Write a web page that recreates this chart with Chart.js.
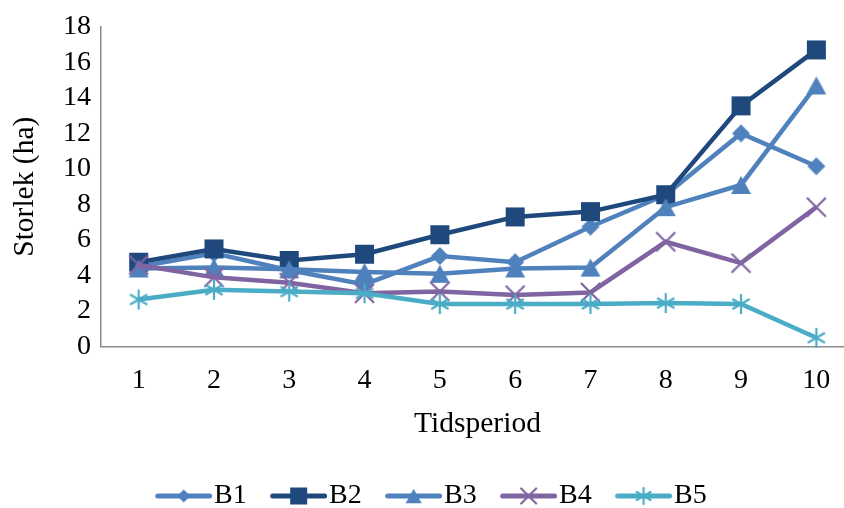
<!DOCTYPE html>
<html><head><meta charset="utf-8">
<script src="https://cdn.jsdelivr.net/npm/chart.js@4.4.1/dist/chart.umd.min.js"></script>
<style>html,body{margin:0;padding:0;overflow:hidden;background:#fff;width:844px;height:508px}
#c{position:absolute;left:0;top:0}</style></head>
<body><canvas id="c" width="856" height="520"></canvas>
<script>
// ---- data ----
const categories = ['1','2','3','4','5','6','7','8','9','10'];
const seriesNames = ['B1','B2','B3','B4','B5'];
const B1 = [4.5, 5.25, 4.3, 3.5, 5.1, 4.75, 6.75, 8.55, 12.0, 10.15];
const B2 = [4.75, 5.5, 4.85, 5.2, 6.3, 7.3, 7.6, 8.55, 13.55, 16.7];
const B3 = [4.4, 4.45, 4.35, 4.2, 4.1, 4.4, 4.45, 7.85, 9.1, 14.7];
const B4 = [4.6, 3.9, 3.6, 3.0, 3.1, 2.9, 3.05, 5.9, 4.7, 7.85];
const B5 = [2.65, 3.2, 3.1, 3.0, 2.4, 2.4, 2.4, 2.45, 2.4, 0.5];
const yMin = 0, yMax = 18, yStep = 2;
const xTitle = 'Tidsperiod';
const yTitle = 'Storlek (ha)';

const seriesData = [B1, B2, B3, B4, B5];
const colors = ['#4F81BD', '#1F497D', '#4F81BD', '#8064A2', '#4BACC6'];
const markers = ['diamond', 'square', 'triangle', 'x', 'star'];
const markerSizes = [18, 19, 20, 19, 20];
const legendMarkerSizes = [13, 17, 16, 15, 16];

function drawMarker(ctx, type, cx, cy, s, color) {
  ctx.fillStyle = color; ctx.strokeStyle = color;
  const h = s / 2;
  ctx.beginPath();
  if (type === 'diamond') {
    ctx.moveTo(cx, cy - h); ctx.lineTo(cx + h, cy); ctx.lineTo(cx, cy + h); ctx.lineTo(cx - h, cy); ctx.closePath(); ctx.fill();
  } else if (type === 'square') {
    ctx.rect(cx - h, cy - h, s, s); ctx.fill();
  } else if (type === 'triangle') {
    const th = s * 0.9;
    ctx.moveTo(cx, cy - th / 2); ctx.lineTo(cx + h, cy + th / 2); ctx.lineTo(cx - h, cy + th / 2); ctx.closePath(); ctx.fill();
  } else if (type === 'x') {
    ctx.lineWidth = 2.2;
    ctx.moveTo(cx - h, cy - h); ctx.lineTo(cx + h, cy + h);
    ctx.moveTo(cx + h, cy - h); ctx.lineTo(cx - h, cy + h); ctx.stroke();
  } else if (type === 'star') {
    ctx.lineWidth = 2.2;
    [90, 30, 150].forEach(a => {
      const r = a * Math.PI / 180, dx = Math.cos(r) * h, dy = Math.sin(r) * h;
      ctx.moveTo(cx - dx, cy - dy); ctx.lineTo(cx + dx, cy + dy);
    });
    ctx.stroke();
  }
}
function markerImage(type, color, s) {
  const c = document.createElement('canvas');
  const size = Math.ceil(s + 4);
  c.width = size; c.height = size;
  drawMarker(c.getContext('2d'), type, size / 2, size / 2, s, color);
  return c;
}
function legendImage(type, color, s) {
  const W = 69, H = 24, off = 12;
  const c = document.createElement('canvas');
  c.width = W; c.height = H;
  const ctx = c.getContext('2d');
  ctx.strokeStyle = color; ctx.lineWidth = 5; ctx.lineCap = 'round';
  ctx.beginPath(); ctx.moveTo(off + 2.5, H / 2); ctx.lineTo(W - 2.5, H / 2); ctx.stroke();
  drawMarker(ctx, type, (off + W) / 2, H / 2, s, color);
  return c;
}

const family = "'Liberation Serif', 'Times New Roman', serif";
const font = { family, size: 28 };
Chart.defaults.font.family = family;

const datasets = seriesNames.map((name, i) => ({
  label: name,
  data: seriesData[i],
  borderColor: colors[i],
  backgroundColor: colors[i],
  borderWidth: 4.5,
  tension: 0,
  pointStyle: markerImage(markers[i], colors[i], markerSizes[i]),
  pointRadius: 10,
  pointHoverRadius: 10,
  order: seriesNames.length - i,
  clip: false
}));
const legendImgs = seriesNames.map((n, i) => legendImage(markers[i], colors[i], legendMarkerSizes[i]));

new Chart(document.getElementById('c'), {
  type: 'line',
  data: { labels: categories, datasets },
  options: {
    responsive: false,
    animation: false,
    devicePixelRatio: 1,
    layout: { autoPadding: false, padding: { left: 8, top: 26, right: 2, bottom: 0 } },
    plugins: {
      tooltip: { enabled: false },
      legend: {
        position: 'bottom',
        labels: {
          usePointStyle: true,
          pointStyleWidth: 44.7,
          padding: 23.6,
          color: '#000',
          font: font,
          generateLabels: (chart) => chart.data.datasets.map((ds, i) => ({
            text: ds.label, pointStyle: legendImgs[i], fillStyle: colors[i], strokeStyle: colors[i],
            lineWidth: 0, hidden: false, datasetIndex: i, fontColor: '#000'
          }))
        }
      }
    },
    scales: {
      x: {
        type: 'category',
        offset: true,
        afterFit: (axis) => { axis.paddingLeft = 0; axis.paddingRight = 0; },
        grid: { display: false, drawTicks: false },
        border: { display: true, color: '#8a8a8a', width: 1.5 },
        ticks: { color: '#000', font: font, padding: 17, maxRotation: 0, autoSkip: false },
        title: { display: true, text: xTitle, color: '#000', font: { family, size: 29.5, lineHeight: 0.5 }, padding: { top: 3, bottom: 26.4 } }
      },
      y: {
        min: yMin, max: yMax,
        grid: { display: false, drawTicks: false },
        border: { display: true, color: '#8a8a8a', width: 1.5 },
        ticks: { stepSize: yStep, color: '#000', font: font, padding: 10, autoSkip: false },
        title: { display: true, text: yTitle, color: '#000', font: { family, size: 29.5 }, padding: { top: 0, bottom: 9.6 } }
      }
    }
  }
});
</script>
</body></html>
